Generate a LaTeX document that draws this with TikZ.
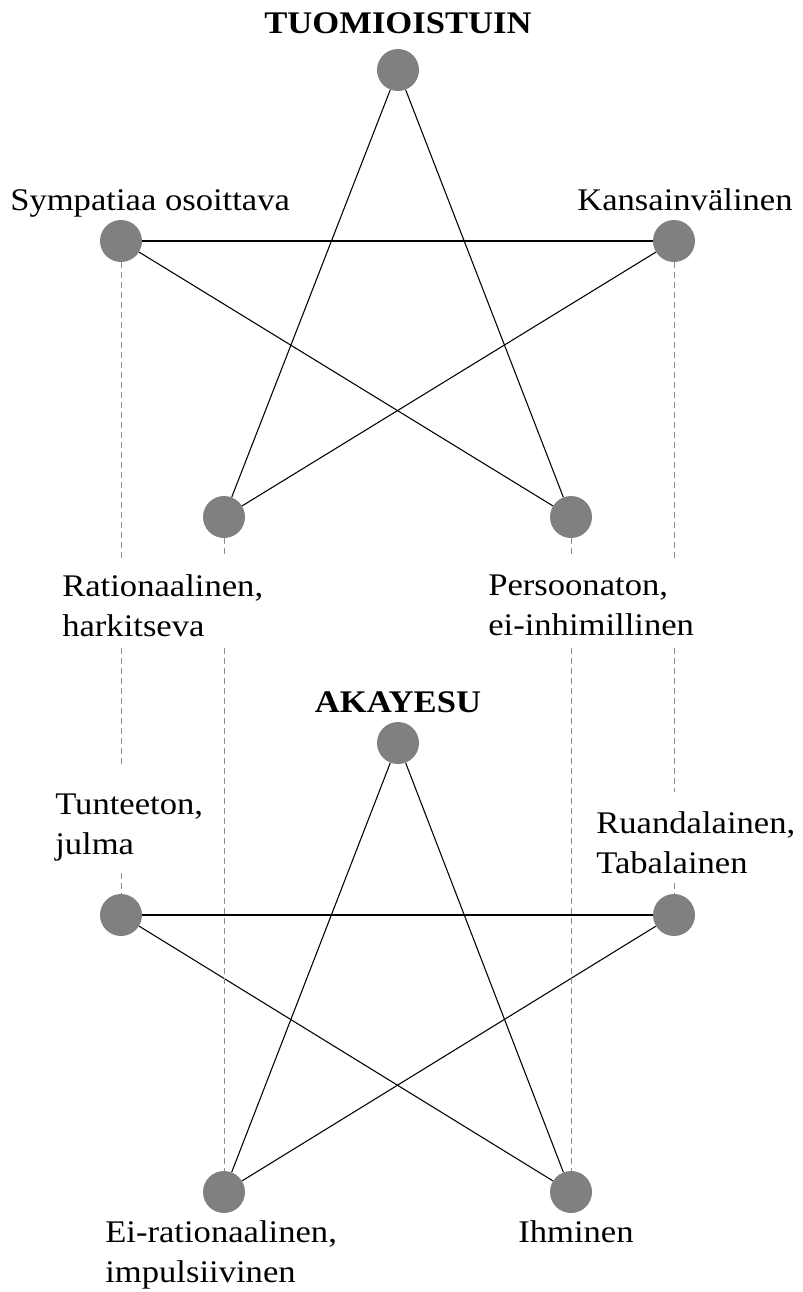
\documentclass[tikz,border=0pt]{standalone}
\usepackage{fontspec}
\setmainfont[FakeStretch=1.1]{Liberation Serif}
\definecolor{dotgray}{RGB}{128,128,128}
\definecolor{dashgray}{RGB}{140,140,140}
\begin{document}
\begin{tikzpicture}[x=0.75pt,y=-0.75pt,
  dot/.style={circle,fill=dotgray,draw=none,minimum size=31.5pt,inner sep=0pt},
  edge/.style={draw=black,line width=0.8pt},
  dashline/.style={draw=dashgray,line width=0.6pt,dash pattern=on 4.5pt off 3pt},
  lab/.style={inner sep=0pt,anchor=base west,align=left,font=\fontsize{23.6}{30}\selectfont},
  title/.style={inner sep=0pt,anchor=base,font=\fontsize{23.6}{30}\selectfont\bfseries}]
\useasboundingbox (0,0) rectangle (803,1292);
% upper star
\node[dot] (T1) at (398,70) {};
\node[dot] (L1) at (121,241) {};
\node[dot] (R1) at (674,241) {};
\node[dot] (BL1) at (224,517) {};
\node[dot] (BR1) at (571,517) {};
% lower star
\node[dot] (T2) at (398,743) {};
\node[dot] (L2) at (121,915) {};
\node[dot] (R2) at (674,915) {};
\node[dot] (BL2) at (224,1192) {};
\node[dot] (BR2) at (571,1192) {};
% star edges
\foreach \s in {1,2}{
  \draw[edge] (T\s) -- (BL\s);
  \draw[edge] (T\s) -- (BR\s);
  \draw[edge] (L\s) -- (R\s);
  \draw[edge] (L\s) -- (BR\s);
  \draw[edge] (R\s) -- (BL\s);
}
% gap coordinates
\coordinate (gA) at (0,558);
\coordinate (gB) at (0,648);
\coordinate (gC) at (0,768);
\coordinate (gD) at (0,873);
\coordinate (gE) at (0,792);
\coordinate (gF) at (0,883);
% dashed connectors
\draw[dashline] (L1.south) -- (L1.south |- gA);
\draw[dashline] (L1.south |- gB) -- (L1.south |- gC);
\draw[dashline] (L2.north |- gD) -- (L2.north);
\draw[dashline] (R1.south) -- (R1.south |- gA);
\draw[dashline] (R1.south |- gB) -- (R1.south |- gE);
\draw[dashline] (R2.north |- gF) -- (R2.north);
\draw[dashline] (BL1.south) -- (BL1.south |- gA);
\draw[dashline] (BL1.south |- gB) -- (BL2.north);
\draw[dashline] (BR1.south) -- (BR1.south |- gA);
\draw[dashline] (BR1.south |- gB) -- (BR2.north);
% labels (multi-line: base = last line)
\node[title] (tt1) at (398,33) {TUOMIOISTUIN};
\node[lab] (lsym) at (10,210) {Sympatiaa osoittava};
\node[lab] (lkan) at (577,210) {Kansainvälinen};
\node[lab] (lrat) at (62,636) {Rationaalinen,\\harkitseva};
\node[lab] (lper) at (488,635) {Persoonaton,\\ei-inhimillinen};
\node[title] (tt2) at (398,712) {AKAYESU};
\node[lab] (ltun) at (55,854) {Tunteeton,\\julma};
\node[lab] (lrua) at (596,873) {Ruandalainen,\\Tabalainen};
\node[lab] (lei) at (105,1282) {Ei-rationaalinen,\\impulsiivinen};
\node[lab] (lihm) at (518,1242) {Ihminen};
\end{tikzpicture}
\end{document}
